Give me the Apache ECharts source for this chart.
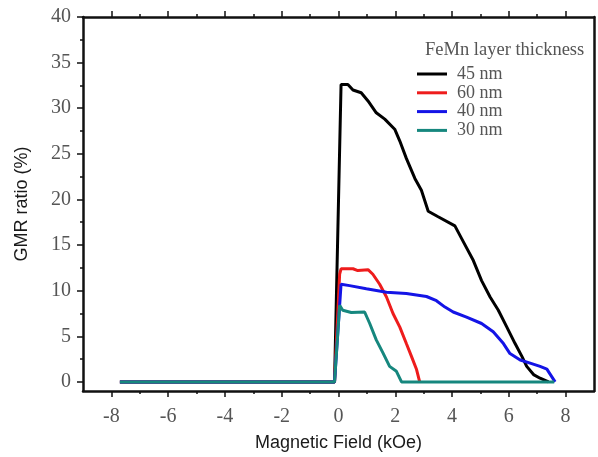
<!DOCTYPE html>
<html>
<head>
<meta charset="utf-8">
<script src="https://cdn.jsdelivr.net/npm/echarts@6/dist/echarts.min.js"></script>
<style>
html,body{margin:0;padding:0;background:#fff;}
#chart{width:598px;height:457px;}
</style>
</head>
<body>
<div id="chart"></div>
<script>
// Tick values
const xTicks = [-8, -6, -4, -2, 0, 2, 4, 6, 8];
const xMinorTicks = [-7, -5, -3, -1, 1, 3, 5, 7];
const yTicks = [0, 5, 10, 15, 20, 25, 30, 35, 40];
const yMinorTicks = [2.5, 7.5, 12.5, 17.5, 22.5, 27.5, 32.5, 37.5];

const seriesNames = ['45 nm', '60 nm', '40 nm', '30 nm'];

// 45 nm
const x45 = [-7.7, -0.14, 0.09, 0.33, 0.51, 0.80, 1.04, 1.33, 1.63, 1.98, 2.16, 2.39, 2.69, 2.92, 3.16, 3.51, 4.10, 4.39, 4.75, 5.04, 5.34, 5.63, 5.93, 6.22, 6.46, 6.63, 6.87, 7.10, 7.40];
const y45 = [0, 0, 32.6, 32.6, 32.0, 31.7, 30.8, 29.5, 28.8, 27.7, 26.4, 24.5, 22.3, 21.0, 18.7, 18.1, 17.1, 15.4, 13.3, 11.1, 9.3, 7.85, 6.0, 4.2, 2.8, 1.7, 0.8, 0.4, 0];
// 60 nm
const x60 = [-7.7, -0.14, 0.04, 0.09, 0.51, 0.68, 1.04, 1.21, 1.45, 1.69, 1.92, 2.16, 2.39, 2.57, 2.75, 2.86];
const y60 = [0, 0, 11.8, 12.4, 12.4, 12.2, 12.3, 11.8, 10.7, 9.3, 7.5, 6.0, 4.2, 2.8, 1.35, 0];
// 40 nm
const x40 = [-7.7, -0.14, 0.09, 0.39, 0.98, 1.69, 2.39, 3.10, 3.45, 3.75, 4.04, 4.51, 5.04, 5.45, 5.81, 6.04, 6.40, 6.75, 7.10, 7.34, 7.63];
const y40 = [0, 0, 10.7, 10.55, 10.2, 9.83, 9.7, 9.36, 8.9, 8.2, 7.66, 7.1, 6.4, 5.5, 4.2, 3.1, 2.4, 2.06, 1.7, 1.4, 0];
// 30 nm
const x30 = [-7.7, -0.14, 0.04, 0.15, 0.45, 0.92, 1.10, 1.33, 1.57, 1.80, 2.04, 2.22, 7.6];
const y30 = [0, 0, 8.4, 7.85, 7.6, 7.66, 6.4, 4.6, 3.15, 1.7, 1.16, 0, 0];

const colors = ['#000000', '#ee1c1c', '#1414e6', '#16877e'];

function zip(xs, ys) { return xs.map((x, i) => [x, ys[i]]); }
const allData = [zip(x45, y45), zip(x60, y60), zip(x40, y40), zip(x30, y30)];

const serif = 'Liberation Serif';
const lbl = { fontFamily: serif, fontSize: 20, color: '#555' };
const black = '#111';

function xAx(pos, ticks, len, showLine, labels, extra) {
  return Object.assign({
    type: 'value', min: -9, max: 9, position: pos,
    axisLine: { show: showLine, onZero: false, lineStyle: { color: black, width: 2.5 } },
    axisTick: { show: true, customValues: ticks, length: len, lineStyle: { color: black, width: 1.5 } },
    axisLabel: labels ? Object.assign({ customValues: xTicks, margin: 16 }, lbl) : { show: false },
    splitLine: { show: false }
  }, extra || {});
}
function yAx(pos, ticks, len, showLine, labels, extra) {
  return Object.assign({
    type: 'value', min: -1, max: 40, position: pos,
    axisLine: { show: showLine, onZero: false, lineStyle: { color: black, width: 2.5 } },
    axisTick: ticks ? { show: true, customValues: ticks, length: len, lineStyle: { color: black, width: 1.5 } } : { show: false },
    axisLabel: labels ? Object.assign({ customValues: yTicks, margin: 12 }, lbl) : { show: false },
    splitLine: { show: false }
  }, extra || {});
}

const chart = echarts.init(document.getElementById('chart'));
chart.setOption({
  animation: false,
  backgroundColor: '#fff',
  grid: { left: 83, right: 4, top: 17, bottom: 62, containLabel: false },
  title: {
    text: 'FeMn layer thickness', left: 425, top: 41, padding: 0,
    textStyle: { fontFamily: serif, fontSize: 18.5, fontWeight: 'normal', color: '#555' }
  },
  legend: {
    data: seriesNames, orient: 'vertical', left: 417, top: 65, padding: 0,
    icon: 'rect', itemWidth: 30, itemHeight: 3, itemGap: 0.8,
    textStyle: { fontFamily: serif, fontSize: 18, color: '#555', lineHeight: 17, padding: [0, 0, 0, 5] }
  },
  xAxis: [
    xAx('bottom', xTicks, 6, true, true, {
      name: 'Magnetic Field (kOe)', nameLocation: 'middle', nameGap: 43,
      nameTextStyle: { fontFamily: 'Liberation Sans', fontSize: 18, color: '#1a1a1a' }
    }),
    xAx('bottom', xMinorTicks, 3, false, false),
    xAx('top', xTicks, 6, true, false),
    xAx('top', xMinorTicks, 3, false, false)
  ],
  yAxis: [
    yAx('left', yTicks, 6, true, true, {
      name: 'GMR ratio (%)', nameLocation: 'middle', nameGap: 52,
      nameTextStyle: { fontFamily: 'Liberation Sans', fontSize: 18, color: '#1a1a1a' }
    }),
    yAx('left', yMinorTicks, 3, false, false),
    yAx('right', null, 0, true, false)
  ],
  series: seriesNames.map((n, i) => ({
    name: n, type: 'line', data: allData[i], showSymbol: false, symbol: 'none',
    lineStyle: { color: colors[i], width: 3 }, itemStyle: { color: colors[i] }
  }))
});
</script>
</body>
</html>
